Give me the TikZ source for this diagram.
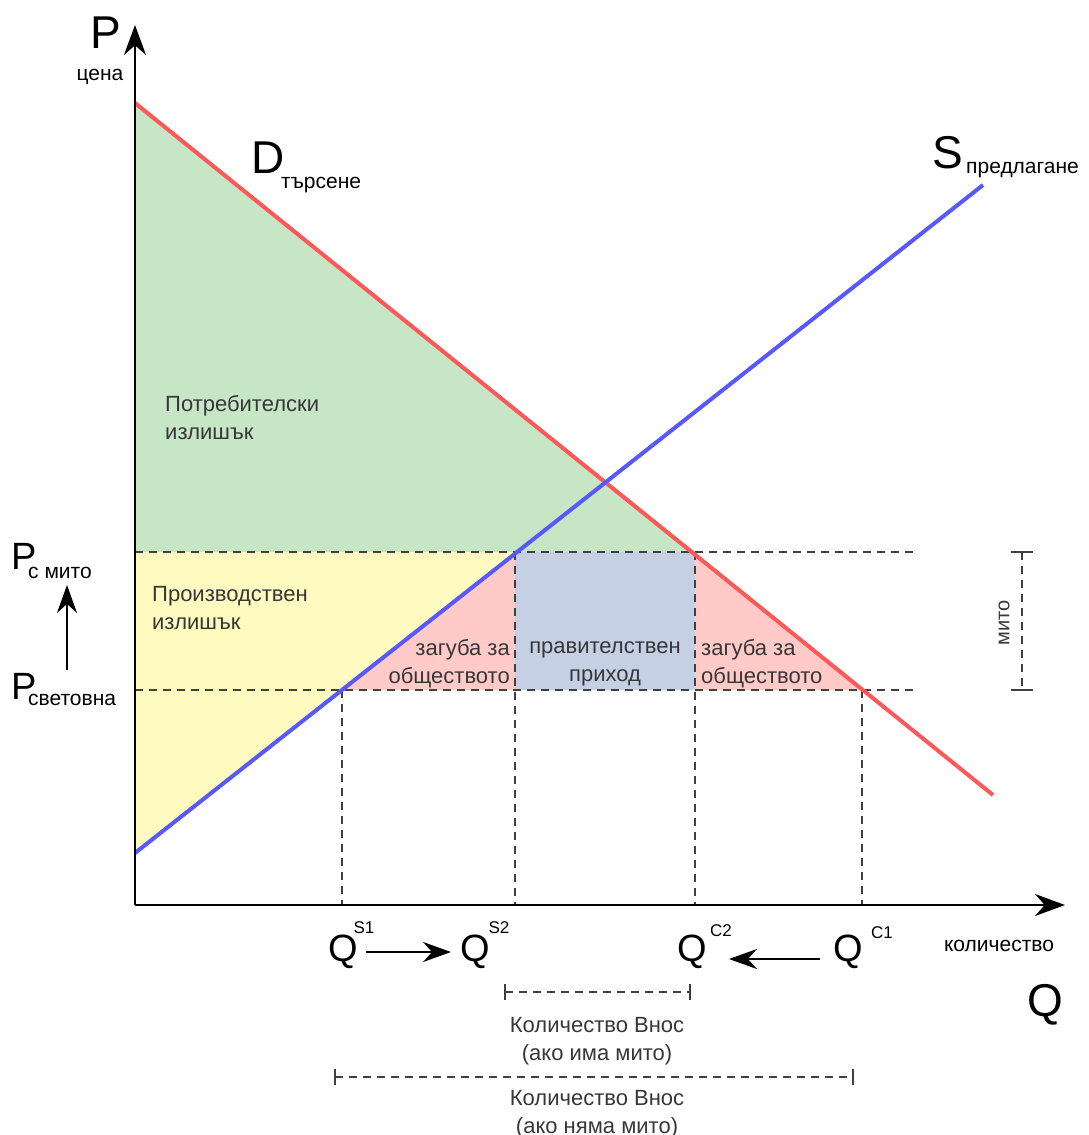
\documentclass[tikz,border=0pt]{standalone}
\usepackage{fontspec}
\setmainfont{Liberation Sans}
\usetikzlibrary{arrows.meta, positioning}
\definecolor{csgreen}{RGB}{198,230,198}
\definecolor{psyellow}{RGB}{255,250,192}
\definecolor{dwlred}{RGB}{255,202,200}
\definecolor{revblue}{RGB}{198,208,228}
\definecolor{demandred}{RGB}{255,88,88}
\definecolor{supplyblue}{RGB}{88,88,255}
\definecolor{txtgray}{RGB}{55,55,55}
\tikzset{
  axisline/.style={-{Stealth[length=30pt,width=22pt]}, line width=2pt, black},
  curveline/.style={line width=4pt},
  guide/.style={dash pattern=on 8pt off 6pt, line width=1.3pt, black!75},
  bigletter/.style={font=\fontsize{46}{46}\selectfont, inner sep=0pt},
  midletter/.style={font=\fontsize{38}{38}\selectfont, inner sep=0pt},
  sublabel/.style={font=\fontsize{21}{21}\selectfont, inner sep=0pt},
  supscript/.style={font=\fontsize{17}{17}\selectfont, inner sep=0pt},
  arealabel/.style={font=\fontsize{22}{28}\selectfont, text=txtgray, inner sep=0pt},
  moveto/.style={-{Stealth[length=28pt,width=20pt]}, line width=1.5pt},
  spanline/.style={dash pattern=on 8pt off 6pt, line width=1.3pt, black!75},
}
\begin{document}
\begin{tikzpicture}[x=1pt, y=-1pt]
  \useasboundingbox (0,0) rectangle (1088,1135);

  % axes and curve points
  \coordinate (O) at (135,905);
  \coordinate (yTip) at (135,25);
  \coordinate (xTip) at (1065,905);
  \coordinate (dA) at (135,103);
  \coordinate (dB) at (993,795);
  \coordinate (sA) at (135,853);
  \coordinate (sB) at (983,185);
  \coordinate (tarL) at (135,552);
  \coordinate (wldL) at (135,690);
  \coordinate (tS) at (515,552);
  \coordinate (tD) at (695,552);
  \coordinate (wS) at (342,690);
  \coordinate (wD) at (862,690);

  % surplus and loss areas
  \fill[csgreen] (dA) -- (tD) -- (tarL) -- cycle;
  \fill[psyellow] (tarL) -- (tS) -- (sA) -- cycle;
  \fill[dwlred] (wS) -- (tS) -- (tS |- wS) -- cycle;
  \fill[revblue] (tS) rectangle (tD |- wS);
  \fill[dwlred] (tD) -- (tD |- wS) -- (wD) -- cycle;

  % guide lines
  \draw[guide] (tarL) -- (918,552);
  \draw[guide] (wldL) -- (918,690);
  \draw[guide] (wS) -- (wS |- O);
  \draw[guide] (tS) -- (tS |- O);
  \draw[guide] (tD) -- (tD |- O);
  \draw[guide] (wD) -- (wD |- O);

  % demand and supply
  \draw[curveline, demandred] (dA) -- (dB);
  \draw[curveline, supplyblue] (sA) -- (sB);

  \draw[axisline] (O) -- (yTip);
  \draw[axisline] (O) -- (xTip);

  % axis and curve labels
  \node[bigletter] (pLbl) at (106,33) {P};
  \node[sublabel] (cenaLbl) at (100,77) {цена};
  \node[bigletter] (dLbl) at (268,158) {D};
  \node[sublabel, anchor=west] (dSub) at (281,185) {търсене};
  \node[bigletter] (sLbl) at (948,153) {S};
  \node[sublabel, anchor=west] (sSub) at (966,170) {предлагане};

  \node[arealabel, anchor=west, align=left] (csLbl) at (165,418)
    {Потребителски\\излишък};
  \node[arealabel, anchor=west, align=left] (psLbl) at (152,608)
    {Производствен\\излишък};
  \node[arealabel, anchor=east, align=right] (dwlL) at (510,664)
    {загуба за\\обществото};
  \node[arealabel, align=center] (revLbl) at (605,664)
    {правителствен\\приход};
  \node[arealabel, anchor=west, align=left] (dwlR) at (701,664)
    {загуба за\\обществото};

  % prices
  \node[midletter] (pTar) at (24,556) {P};
  \node[sublabel, anchor=west] (pTarSub) at (28,573) {с мито};
  \node[midletter] (pWld) at (24,686) {P};
  \node[sublabel, anchor=west] (pWldSub) at (28,700) {световна};
  \coordinate (pUpA) at (67,670);
  \coordinate (pUpB) at (67,585);
  \draw[moveto] (pUpA) -- (pUpB);

  % tariff span
  \coordinate (mitoT) at (1022,552);
  \coordinate (mitoB) at (1022,690);
  \draw[spanline] (mitoT) -- (mitoB);
  \draw[line width=1.5pt, black!75] ([xshift=-11pt]mitoT) -- ([xshift=11pt]mitoT);
  \draw[line width=1.5pt, black!75] ([xshift=-11pt]mitoB) -- ([xshift=11pt]mitoB);
  \node[font=\fontsize{20}{20}\selectfont, text=txtgray, rotate=90, inner sep=0pt]
    (mitoLbl) at (1004,623) {мито};

  % quantities
  \node[midletter] (qS1) at (343,952) {Q};
  \node[supscript] (qS1sup) at (364,928) {S1};
  \node[midletter] (qS2) at (475,952) {Q};
  \node[supscript] (qS2sup) at (499,928) {S2};
  \node[midletter] (qC2) at (692,952) {Q};
  \node[supscript] (qC2sup) at (721,931) {C2};
  \node[midletter] (qC1) at (848,952) {Q};
  \node[supscript] (qC1sup) at (882,933) {C1};
  \draw[moveto] ([xshift=8pt]qS1.east) -- ([xshift=-9pt]qS2.west);
  \draw[moveto] ([xshift=-13pt,yshift=-7pt]qC1.west) -- ([xshift=22pt,yshift=-7pt]qC2.east);
  \node[sublabel] (kolLbl) at (999,946) {количество};
  \node[bigletter] (qLbl) at (1045,1005) {Q};

  % import spans
  \coordinate (imp1L) at (505,992);
  \coordinate (imp1R) at (690,992);
  \draw[spanline] (imp1L) -- (imp1R);
  \draw[line width=1.5pt, black!75] ([yshift=-8pt]imp1L) -- ([yshift=8pt]imp1L);
  \draw[line width=1.5pt, black!75] ([yshift=-8pt]imp1R) -- ([yshift=8pt]imp1R);
  \node[arealabel, align=center] (imp1Lbl) at (597,1041)
    {Количество Внос\\(ако има мито)};
  \coordinate (imp2L) at (335,1077);
  \coordinate (imp2R) at (853,1077);
  \draw[spanline] (imp2L) -- (imp2R);
  \draw[line width=1.5pt, black!75] ([yshift=-8pt]imp2L) -- ([yshift=8pt]imp2L);
  \draw[line width=1.5pt, black!75] ([yshift=-8pt]imp2R) -- ([yshift=8pt]imp2R);
  \node[arealabel, align=center] (imp2Lbl) at (597,1114)
    {Количество Внос\\(ако няма мито)};
\end{tikzpicture}
\end{document}
